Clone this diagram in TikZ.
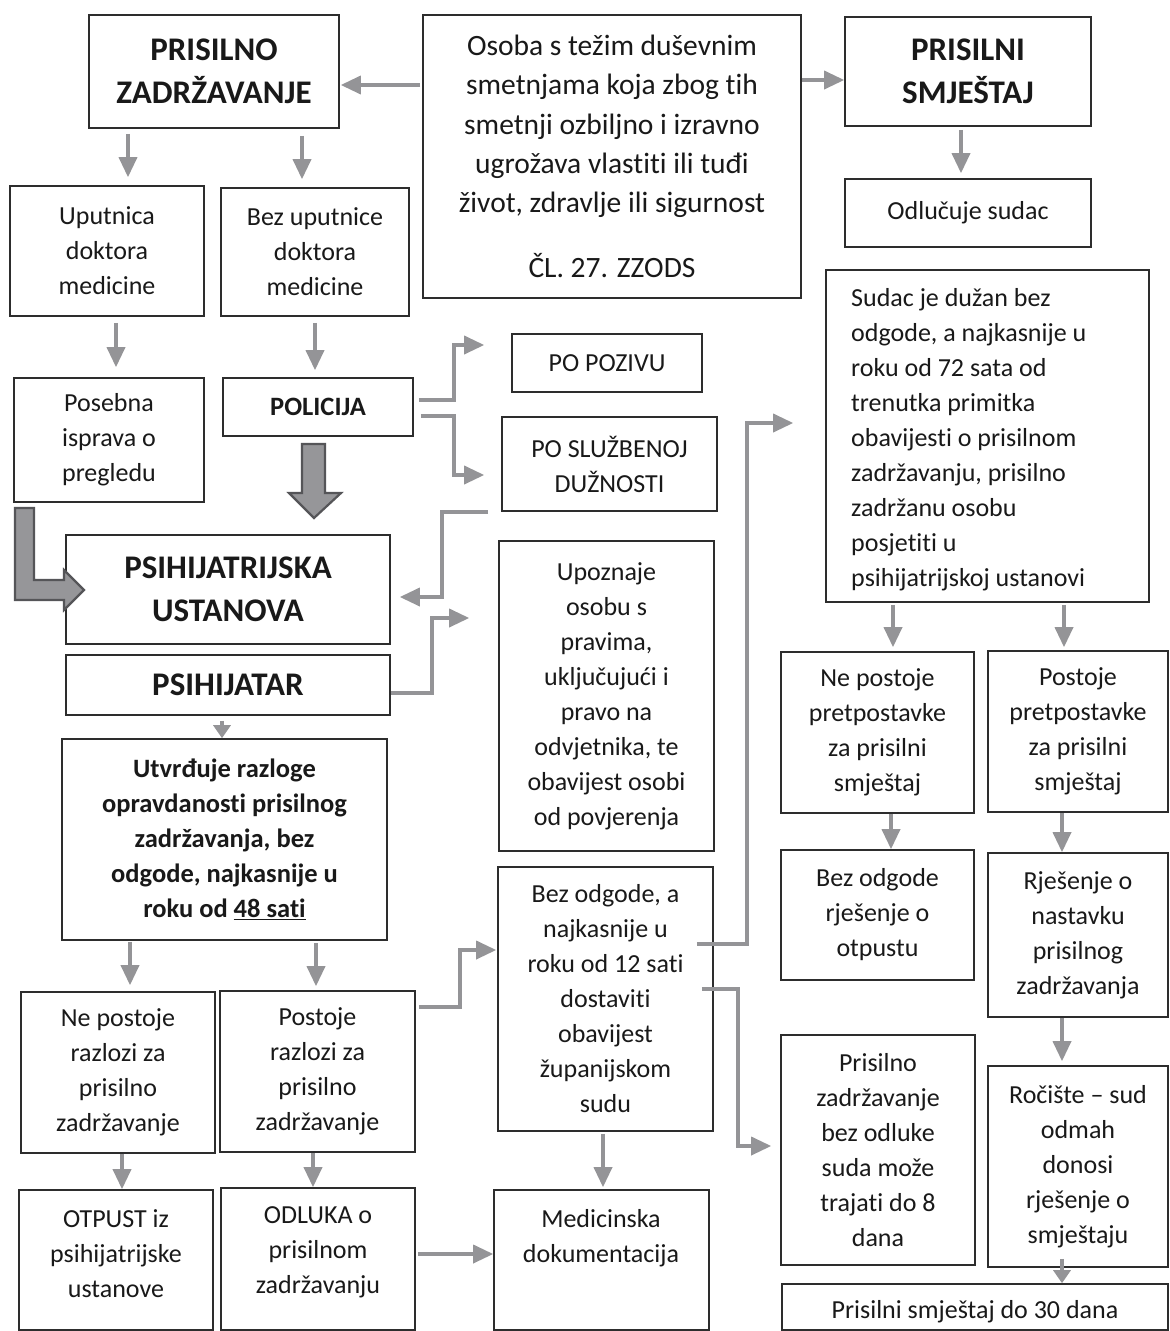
\documentclass[tikz,border=0pt]{standalone}
\usepackage{fontspec}
\setmainfont{Carlito}[Ligatures=NoCommon]
\usetikzlibrary{arrows.meta}
\definecolor{arrc}{RGB}{148,148,151}
\definecolor{boxc}{RGB}{45,45,45}
\definecolor{txtc}{RGB}{25,25,25}
\definecolor{blockf}{RGB}{150,150,153}
\definecolor{blockd}{RGB}{85,85,88}
\tikzset{
  box/.style={draw=boxc, line width=1.6pt, inner sep=0pt, align=center, text=txtc,
    font=\fontsize{26}{35}\selectfont},
  txt/.style={inner sep=0pt, align=center, text=txtc, font=\fontsize{26}{35}\selectfont},
  bigtitle/.style={font=\bfseries\fontsize{33}{43}\selectfont},
  boldtxt/.style={font=\bfseries\fontsize{26.5}{35}\selectfont},
  osobafont/.style={font=\fontsize{29.5}{39.25}\selectfont},
  arr/.style={draw=arrc, line width=3.5pt, -{Triangle[length=20pt,width=18pt]}},
  arrshort/.style={draw=arrc, line width=3.5pt, -{Triangle[length=13pt,width=17pt]}},
  block/.style={fill=blockf, draw=blockd, line width=2.2pt, line join=miter},
}
\newcommand{\bx}[7][]{\node[box,#1,minimum width={(#5-#3)*1pt},minimum height={(#6-#4)*1pt}] (#2) at ({(#3+#5)/2},{(#4+#6)/2}) {#7};}
\begin{document}
\begin{tikzpicture}[x=1pt,y=-1pt]
\useasboundingbox (0,0) rectangle (1170,1331);
\fill[white] (0,0) rectangle (1170,1331);

% ---- boxes
\bx[bigtitle]{pz}{89}{15}{339}{128}{PRISILNO\\ZADRŽAVANJE}
\bx[osobafont]{osoba}{423}{15}{801}{298}{Osoba s težim duševnim\\smetnjama koja zbog tih\\smetnji ozbiljno i izravno\\ugrožava vlastiti ili tuđi\\život, zdravlje ili sigurnost\\[26pt]ČL. 27. ZZODS}
\bx[bigtitle]{ps}{845}{17}{1091}{126}{PRISILNI\\SMJEŠTAJ}
\bx{odl}{845}{179}{1091}{247}{Odlučuje sudac}
\bx{sudac}{826}{270}{1149}{602}{}
\node[txt, anchor=west, align=left] (sudacT) at (851,440) {Sudac je dužan bez\\odgode, a najkasnije u\\roku od 72 sata od\\trenutka primitka\\obavijesti o prisilnom\\zadržavanju, prisilno\\zadržanu osobu\\posjetiti u\\psihijatrijskoj ustanovi};
\bx{uput}{10}{186}{204}{316}{Uputnica\\doktora\\medicine}
\bx{bezup}{221}{188}{409}{316}{Bez uputnice\\doktora\\medicine}
\bx{poseb}{14}{378}{204}{502}{Posebna\\isprava o\\pregledu}
\bx[boldtxt]{pol}{223}{378}{413}{436}{POLICIJA}
\bx{poziv}{512}{334}{702}{392}{PO POZIVU}
\bx{sluz}{502}{417}{717}{511}{PO SLUŽBENOJ\\DUŽNOSTI}
\bx[bigtitle]{ustan}{66}{535}{390}{644}{PSIHIJATRIJSKA\\USTANOVA}
\bx[bigtitle]{psih}{66}{655}{390}{715}{PSIHIJATAR}
\bx{upozn}{499}{541}{714}{851}{Upoznaje\\osobu s\\pravima,\\uključujući i\\pravo na\\odvjetnika, te\\obavijest osobi\\od povjerenja}
\bx[boldtxt]{utvr}{62}{739}{387}{940}{Utvrđuje razloge\\opravdanosti prisilnog\\zadržavanja, bez\\odgode, najkasnije u\\roku od \underline{48 sati}}
\bx{nerazl}{21}{992}{215}{1153}{Ne postoje\\razlozi za\\prisilno\\zadržavanje}
\bx{razl}{220}{991}{415}{1152}{Postoje\\razlozi za\\prisilno\\zadržavanje}
\bx{otpust}{19}{1190}{213}{1330}{}
\node[txt] (otpustT) at (116,1254) {OTPUST iz\\psihijatrijske\\ustanove};
\bx{odluka}{221}{1188}{415}{1330}{}
\node[txt] (odlukaT) at (318,1252) {ODLUKA o\\prisilnom\\zadržavanju};
\bx{dost}{498}{867}{713}{1131}{Bez odgode, a\\najkasnije u\\roku od 12 sati\\dostaviti\\obavijest\\županijskom\\sudu}
\bx{medic}{494}{1190}{709}{1330}{}
\node[txt] (medicT) at (601,1238) {Medicinska\\dokumentacija};
\bx{nepret}{781}{652}{974}{813}{Ne postoje\\pretpostavke\\za prisilni\\smještaj}
\bx{pret}{988}{651}{1168}{812}{Postoje\\pretpostavke\\za prisilni\\smještaj}
\bx{otpustRj}{781}{850}{974}{980}{Bez odgode\\rješenje o\\otpustu}
\bx{nastav}{988}{853}{1168}{1017}{Rješenje o\\nastavku\\prisilnog\\zadržavanja}
\bx{osam}{781}{1035}{975}{1265}{Prisilno\\zadržavanje\\bez odluke\\suda može\\trajati do 8\\dana}
\bx{rociste}{988}{1066}{1168}{1267}{Ročište – sud\\odmah\\donosi\\rješenje o\\smještaju}
\bx{trideset}{782}{1284}{1168}{1330}{}
\node[txt] (tridesetT) at (975,1312) {Prisilni smještaj do 30 dana};

% ---- horizontal arrows
\coordinate (h1) at ([yshift=71.5pt,xshift=-2pt]osoba.west);
\draw[arr, shorten >=1pt] (h1) -- (h1 -| pz.east);
\coordinate (h2) at ([yshift=76.5pt]osoba.east);
\draw[arr] (h2) -- (h2 -| ps.west);
\coordinate (h8) at ([xshift=2pt,yshift=5pt]odluka.east);
\draw[arr] (h8) -- (h8 -| medic.west);

% ---- elbow arrows
\draw[arr] ([xshift=5pt,yshift=7pt]pol.east) -- ++(35,0) |- ([xshift=-27pt,yshift=18pt]poziv.west);
\draw[arr] ([xshift=7pt,yshift=-9pt]pol.east) -- ++(33,0) |- ([xshift=-17pt,yshift=-11pt]sluz.west);
\draw[arr] ([xshift=-13pt]sluz.south west) -- ++(-46,0) |- ([xshift=9pt,yshift=-7.5pt]ustan.east);
\draw[arr] ([yshift=-8pt]psih.east) -- ++(41,0) |- ([xshift=-29pt,yshift=78pt]upozn.west);
\draw[arr] ([xshift=3pt,yshift=64.5pt]razl.east) -- ++(41,0) |- ([xshift=-1pt,yshift=49pt]dost.west);
\draw[arr] ([xshift=-17pt,yshift=55pt]dost.east) -- ++(50,0) |- ([xshift=-32pt,yshift=13pt]sudac.west);
\draw[arr] ([xshift=-12pt,yshift=10pt]dost.east) -- ++(36,0) |- ([xshift=-9pt,yshift=4pt]osam.west);

% ---- vertical arrows
\draw[arr, shorten <=5pt, shorten >=8pt] (pz.south -| 128,0) -- (uput.north -| 128,0);
\draw[arr, shorten <=7pt, shorten >=8pt] (pz.south -| 302,0) -- (bezup.north -| 302,0);
\draw[arr, shorten <=3pt, shorten >=5pt] (ps.south -| 961,0) -- (odl.north -| 961,0);
\draw[arr, shorten <=6pt, shorten >=10pt] (uput.south -| 116,0) -- (poseb.north -| 116,0);
\draw[arr, shorten <=6pt, shorten >=7pt] (bezup.south -| 315,0) -- (pol.north -| 315,0);
\draw[arrshort, shorten <=5pt] (psih.south -| 222,0) -- (utvr.north -| 222,0);
\draw[arr, shorten <=1pt, shorten >=6pt] (utvr.south -| 130,0) -- (nerazl.north -| 130,0);
\draw[arr, shorten <=2pt, shorten >=4pt] (utvr.south -| 316,0) -- (razl.north -| 316,0);
\draw[arr] (nerazl.south -| 122,0) -- (otpust.north -| 122,0);
\draw[arr] (razl.south -| 313,0) -- (odluka.north -| 313,0);
\draw[arr, shorten <=2pt, shorten >=2pt] (dost.south -| 603,0) -- (medic.north -| 603,0);
\draw[arr, shorten <=2pt, shorten >=4pt] (sudac.south -| 893,0) -- (nepret.north -| 893,0);
\draw[arr, shorten <=2pt, shorten >=3pt] (sudac.south -| 1064,0) -- (pret.north -| 1064,0);
\draw[arr] (nepret.south -| 891,0) -- (otpustRj.north -| 891,0);
\draw[arr] (pret.south -| 1062,0) -- (nastav.north -| 1062,0);
\draw[arr, shorten >=4pt] (nastav.south -| 1062,0) -- (rociste.north -| 1062,0);
\draw[arrshort, shorten <=-9pt] (rociste.south -| 1062,0) -- (trideset.north -| 1062,0);

% ---- block arrows
\draw[block] (302,444) -- (325,444) -- (325,493) -- (341,493) -- (314,518) -- (289,493) -- (302,493) -- cycle;
\draw[block] (15,508) -- (34,508) -- (34,580) -- (64,580) -- (64,570) -- (84,590) -- (64,610) -- (64,600) -- (15,600) -- cycle;
\end{tikzpicture}
\end{document}
